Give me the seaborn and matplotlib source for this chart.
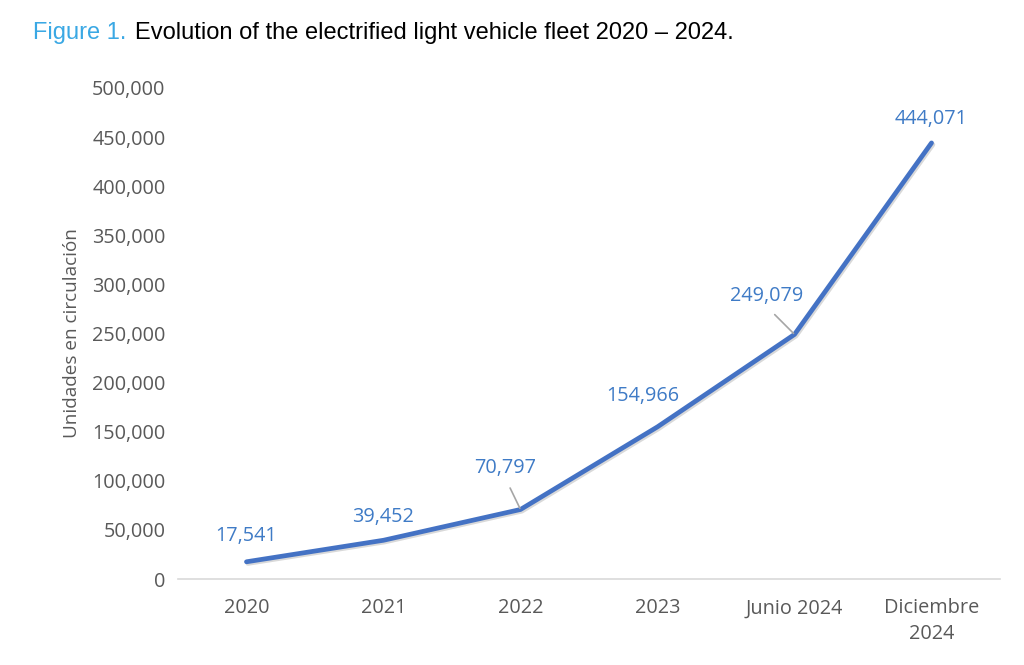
import matplotlib
matplotlib.use("Agg")
import matplotlib.pyplot as plt
import matplotlib.patheffects as pe
import seaborn as sns
import pandas as pd

categories = ["2020", "2021", "2022", "2023", "Junio 2024", "Diciembre\n2024"]
values = [17541, 39452, 70797, 154966, 249079, 444071]
value_labels = ["17,541", "39,452", "70,797", "154,966", "249,079", "444,071"]
y_ticks = [0, 50000, 100000, 150000, 200000, 250000, 300000, 350000, 400000, 450000, 500000]

# label offsets in pixels (dx, dy) and whether a leader line is drawn
label_offsets = [(0, 26), (0, 23), (-15, 41), (-15, 31), (-28, 38), (0, 24)]
leaders = [False, False, True, False, True, False]

sns.set_theme(style="white")
plt.rcParams["font.family"] = ["Open Sans", "DejaVu Sans"]

df = pd.DataFrame({"pos": range(len(categories)), "value": values})

fig = plt.figure(figsize=(10.24, 6.65), dpi=100)
ax = fig.add_axes([0.1738, 0.1293, 0.9766 - 0.1738, 0.8677 - 0.1293])

line_color = "#4472C4"
label_color = "#3F7BC6"
gray = "#595959"
fs = 14.3

sns.lineplot(data=df, x="pos", y="value", ax=ax, color=line_color, linewidth=3.4,
             solid_capstyle="round",
             path_effects=[pe.SimpleLineShadow(offset=(1.0, -1.2), alpha=0.15, shadow_color="black"),
                           pe.Normal()])

ax.set_xlim(-0.5, len(categories) - 0.5)
ax.set_ylim(0, 500000)
ax.set_yticks(y_ticks)
ax.set_yticklabels([f"{v:,}" for v in y_ticks])
ax.set_xticks(range(len(categories)))
ax.set_xticklabels(categories, linespacing=1.35)
ax.tick_params(axis="both", length=0, labelsize=fs, labelcolor=gray)
ax.tick_params(axis="x", pad=14)
ax.tick_params(axis="y", pad=9)
ax.set_xlabel("")
ax.set_ylabel("Unidades en circulación", fontsize=13.6, color=gray, labelpad=8)
ax.grid(False)
for s in ["top", "right", "left"]:
    ax.spines[s].set_visible(False)
ax.spines["bottom"].set_color("#D9D9D9")
ax.spines["bottom"].set_linewidth(1.2)

for i, (lab, (dx, dy), lead) in enumerate(zip(value_labels, label_offsets, leaders)):
    if lead:
        ax.annotate(lab, xy=(i, values[i]), xytext=(dx, dy), textcoords="offset pixels",
                    ha="center", va="center", fontsize=fs, color=label_color,
                    arrowprops=dict(arrowstyle="-", color="#A6A6A6", lw=1.2,
                                    relpos=(0.5, 0.0), shrinkA=5, shrinkB=1))
    else:
        ax.annotate(lab, xy=(i, values[i]), xytext=(dx, dy), textcoords="offset pixels",
                    ha="center", va="center", fontsize=fs, color=label_color)

fig.text(33 / 1024, 1 - 33 / 665, "Figure 1.", fontsize=17, color="#3AA8E4",
         family=["Liberation Sans", "DejaVu Sans"], ha="left", va="center")
fig.text(135 / 1024, 1 - 33 / 665, "Evolution of the electrified light vehicle fleet 2020 – 2024.",
         fontsize=17, color="black", family=["Liberation Sans", "DejaVu Sans"], ha="left", va="center")

fig.savefig("out.png", dpi=100)
